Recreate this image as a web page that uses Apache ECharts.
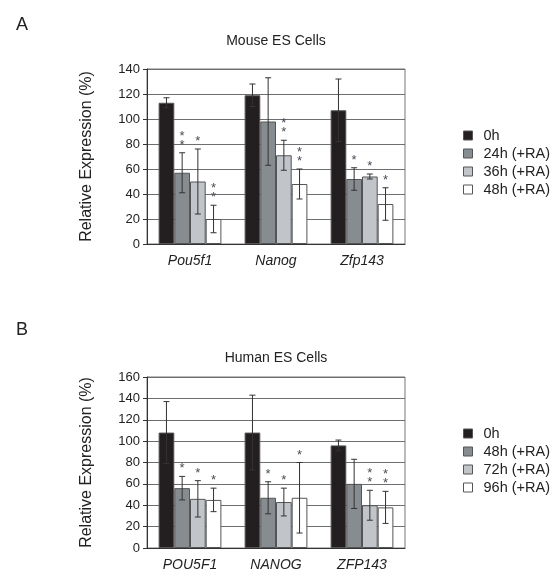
<!DOCTYPE html>
<html>
<head>
<meta charset="utf-8">
<script src="https://cdn.jsdelivr.net/npm/echarts@6/dist/echarts.min.js"></script>
<style>
  html, body { margin: 0; padding: 0; background: #fff; }
  #main { width: 552px; height: 572px; }
</style>
</head>
<body>
<div id="main"></div>
<script>
// panel A - mouse
const mouseGenes = ['Pou5f1', 'Nanog', 'Zfp143'];
const mouseTimes = ['0h', '24h (+RA)', '36h (+RA)', '48h (+RA)'];
const mouseMean = [[113, 119, 107], [57, 98, 52], [50, 71, 54], [20, 48, 32]];
const mouseErr = [[4, 9, 25], [16, 35, 9], [26, 12, 2], [11, 12, 13]];
const mouseStars = [[0, 0, 0], [2, 0, 1], [1, 2, 1], [2, 2, 1]];

// panel B - human
const humanGenes = ['POU5F1', 'NANOG', 'ZFP143'];
const humanTimes = ['0h', '48h (+RA)', '72h (+RA)', '96h (+RA)'];
const humanMean = [[108, 108, 96], [56, 47, 60], [46, 43, 40], [45, 47, 38]];
const humanErr = [[29, 35, 5], [11, 15, 23], [17, 13, 14], [11, 33, 15]];
const humanStars = [[0, 0, 0], [1, 1, 0], [1, 1, 2], [1, 1, 2]];

const barColors = ['#231f20', '#878c91', '#c1c5ca', '#ffffff'];
const font = 'Liberation Sans, Arial, sans-serif';
const gapPct = 0.27;

const chart = echarts.init(document.getElementById('main'));

function errItems(mean, err, stars) {
  const out = [];
  mean.forEach((row, s) => {
    row.forEach((v, c) => out.push([c, s, v, err[s][c], stars[s][c]]));
  });
  return out;
}

// error bars + significance stars
function renderErr(params, api) {
  const c = api.value(0), s = api.value(1);
  const v = api.value(2), e = api.value(3), n = api.value(4);
  const center = api.coord([c, 0])[0];
  const catW = api.size([1, 0])[0];
  const barW = catW * (1 - gapPct) / 4;
  const x = center + (s - 1.5) * barW;
  const yTop = api.coord([c, v + e])[1];
  const yBot = api.coord([c, v - e])[1];
  const cap = 3;
  const st = { stroke: '#333', lineWidth: 1 };
  const children = [
    { type: 'line', shape: { x1: x, y1: yTop, x2: x, y2: yBot }, style: st },
    { type: 'line', shape: { x1: x - cap, y1: yTop, x2: x + cap, y2: yTop }, style: st },
    { type: 'line', shape: { x1: x - cap, y1: yBot, x2: x + cap, y2: yBot }, style: st }
  ];
  for (let k = 0; k < n; k++) {
    children.push({
      type: 'text',
      style: {
        text: '*', x: x, y: yTop - 1 - k * 9,
        align: 'center', verticalAlign: 'bottom',
        fill: '#4a4d57', font: '13px ' + font
      }
    });
  }
  return { type: 'group', children: children };
}

function barSeries(prefix, times, mean, idx) {
  return times.map((t, s) => ({
    name: prefix + t,
    type: 'bar',
    xAxisIndex: idx,
    yAxisIndex: idx,
    data: mean[s],
    barGap: 0,
    barCategoryGap: (gapPct * 100) + '%',
    itemStyle: { color: barColors[s], borderColor: '#555', borderWidth: 1 },
    animation: false
  }));
}

function legendFor(prefix, times, top) {
  return {
    orient: 'vertical',
    left: 458,
    top: top,
    itemWidth: 9,
    itemHeight: 9,
    itemGap: 3,
    icon: 'rect',
    data: times.map(t => prefix + t),
    formatter: name => name.slice(prefix.length),
    itemStyle: { borderColor: '#555', borderWidth: 1 },
    textStyle: { fontFamily: font, fontSize: 14.5, color: '#222', padding: [0, 0, 0, 6] }
  };
}

function xAxisFor(genes, idx) {
  return {
    type: 'category',
    gridIndex: idx,
    data: genes,
    axisLine: { lineStyle: { color: '#333' } },
    axisTick: { show: false },
    axisLabel: { fontFamily: font, fontSize: 14, fontStyle: 'italic', color: '#222', margin: 10 }
  };
}

function yAxisFor(max, idx) {
  return {
    type: 'value',
    gridIndex: idx,
    min: 0,
    max: max,
    interval: 20,
    name: 'Relative Expression (%)',
    nameLocation: 'middle',
    nameGap: 52,
    nameTextStyle: { fontFamily: font, fontSize: 16, color: '#222' },
    axisLine: { show: true, lineStyle: { color: '#333' } },
    axisTick: { show: true, length: 4, lineStyle: { color: '#333' } },
    axisLabel: { fontFamily: font, fontSize: 13, color: '#222', margin: 7 },
    splitLine: { lineStyle: { color: '#6d6e71', width: 1 } }
  };
}

const option = {
  backgroundColor: '#fff',
  animation: false,
  title: [
    { text: 'A', left: 11, top: 11, textStyle: { fontFamily: font, fontSize: 18, fontWeight: 'normal', color: '#222' } },
    { text: 'Mouse ES Cells', left: 'center', top: 29, textStyle: { fontFamily: font, fontSize: 14, fontWeight: 'normal', color: '#222' } },
    { text: 'B', left: 11, top: 316, textStyle: { fontFamily: font, fontSize: 18, fontWeight: 'normal', color: '#222' } },
    { text: 'Human ES Cells', left: 'center', top: 346, textStyle: { fontFamily: font, fontSize: 14, fontWeight: 'normal', color: '#222' } }
  ],
  legend: [
    legendFor('A:', mouseTimes, 123),
    legendFor('B:', humanTimes, 421)
  ],
  grid: [
    { left: 147, top: 69, width: 258, height: 175, show: true, borderColor: '#777', borderWidth: 1 },
    { left: 147, top: 377, width: 258, height: 175, show: true, borderColor: '#777', borderWidth: 1 }
  ],
  xAxis: [xAxisFor(mouseGenes, 0), xAxisFor(humanGenes, 1)],
  yAxis: [yAxisFor(140, 0), yAxisFor(160, 1)],
  series: [
    ...barSeries('A:', mouseTimes, mouseMean, 0),
    ...barSeries('B:', humanTimes, humanMean, 1),
    {
      type: 'custom',
      xAxisIndex: 0,
      yAxisIndex: 0,
      renderItem: renderErr,
      encode: { x: 0, y: 2 },
      data: errItems(mouseMean, mouseErr, mouseStars),
      z: 5
    },
    {
      type: 'custom',
      xAxisIndex: 1,
      yAxisIndex: 1,
      renderItem: renderErr,
      encode: { x: 0, y: 2 },
      data: errItems(humanMean, humanErr, humanStars),
      z: 5
    }
  ]
};

chart.setOption(option);
</script>
</body>
</html>
